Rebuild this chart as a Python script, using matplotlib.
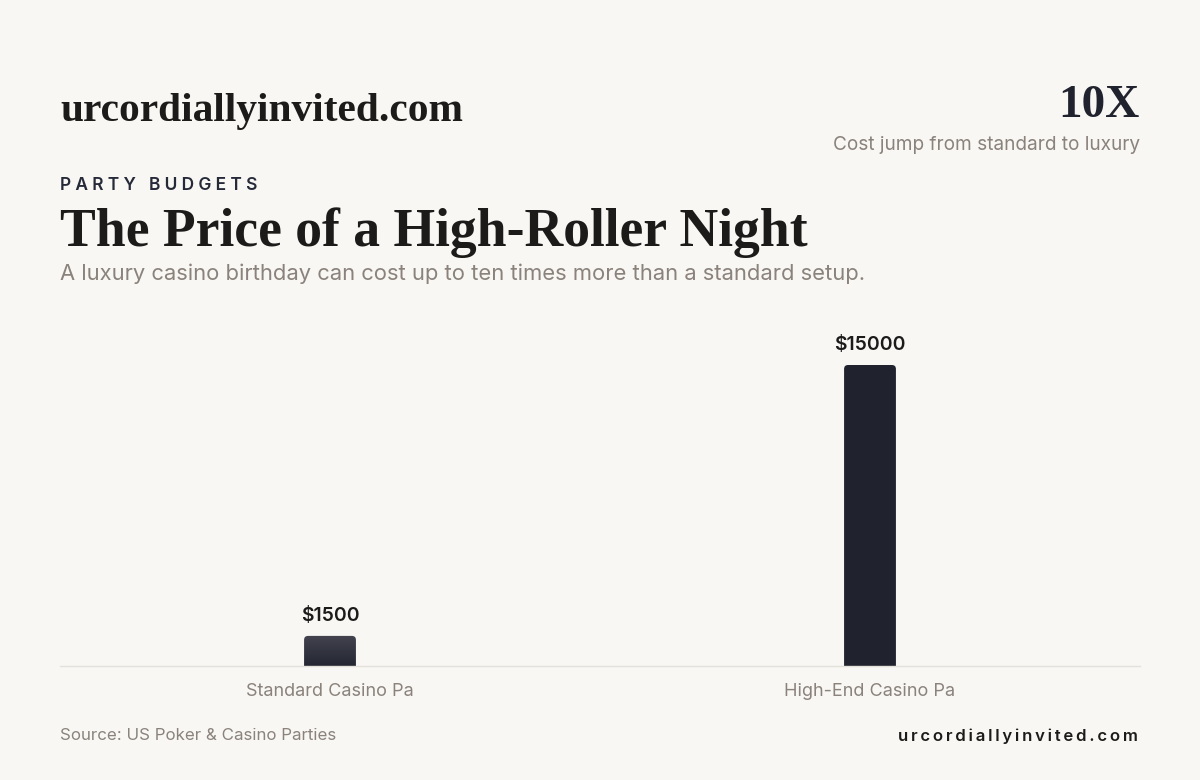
import matplotlib.pyplot as plt
import numpy as np
from matplotlib.colors import LinearSegmentedColormap
from matplotlib.patches import FancyBboxPatch

# data
categories = ["Standard Casino Pa", "High-End Casino Pa"]
costs = [1500, 15000]
value_labels = ["$1500", "$15000"]

BG = "#f8f7f4"
INK = "#1c1b1a"
NAVY = "#20232e"
GREY = "#8a827b"
SANS = ["Inter", "DejaVu Sans"]
SERIF = ["Liberation Serif", "DejaVu Serif"]


def spaced(s, sep="\u2009"):
    return sep.join(s)


fig = plt.figure(figsize=(12, 7.8), dpi=100, facecolor=BG)
W, H = 1200, 780


def px(x, y):
    return x / W, 1 - y / H


# header texts
fig.text(*px(60, 111), "urcordiallyinvited.com", family=SERIF, weight="bold",
         fontsize=29.8, color=INK, va="center", ha="left")
fig.text(*px(1140, 106), "10X", family=SERIF, weight="bold",
         fontsize=34, color=NAVY, va="center", ha="right")
fig.text(*px(1140, 145), "Cost jump from standard to luxury", family=SANS,
         fontsize=13.7, color=GREY, va="center", ha="right")
fig.text(*px(60, 186), spaced("PARTY", "\u2009\u200a") + "   " + spaced("BUDGETS", "\u2009\u200a"),
         family=SANS, weight="semibold", fontsize=12.5, color="#262a38",
         va="center", ha="left")
fig.text(*px(60, 233), "The Price of a High-Roller Night", family=SERIF,
         weight="bold", fontsize=38.6, color=INK, va="center", ha="left")
fig.text(*px(60, 274),
         "A luxury casino birthday can cost up to ten times more than a standard setup.",
         family=SANS, fontsize=15.8, color=GREY, va="center", ha="left")

# chart area
left, right, bottom, top = 60, 1140, 666, 320
ax = fig.add_axes([left / W, 1 - bottom / H, (right - left) / W, (bottom - top) / H])
ax.set_facecolor(BG)

x = np.arange(len(categories))
ymax = 15000 * 346 / 301
bar_w = 0.096
ax.set_xlim(-0.5, 1.5)
ax.set_ylim(0, ymax)

# data units per pixel, used to keep the corner rounding circular
xu = 2.0 / (right - left)
yu = ymax / (bottom - top)
radius = 4 * xu

for i, (xi, v, lab) in enumerate(zip(x, costs, value_labels)):
    # extend the box below zero so only the top corners show rounded
    patch = FancyBboxPatch((xi - bar_w / 2, -10 * yu), bar_w, v + 10 * yu,
                           boxstyle=f"round,pad=0,rounding_size={radius}",
                           mutation_aspect=yu / xu, linewidth=0,
                           facecolor=NAVY if i == 1 else "none", zorder=2)
    ax.add_patch(patch)
    if i == 0:
        grad = np.linspace(1, 0, 64).reshape(-1, 1)
        cmap = LinearSegmentedColormap.from_list("bar", ["#242631", "#43444f"])
        im = ax.imshow(grad, cmap=cmap, aspect="auto", origin="upper",
                       extent=(xi - bar_w / 2, xi + bar_w / 2, 0, v), zorder=2)
        im.set_clip_path(patch)
    ax.annotate(lab, xy=(xi, v), xytext=(0, 8), textcoords="offset points",
                ha="center", va="bottom", family=SANS, weight="semibold",
                fontsize=14, color=INK)

ax.set_xlim(-0.5, 1.5)
ax.set_ylim(0, ymax)
ax.set_yticks([])
ax.set_xticks(x)
ax.set_xticklabels(categories, family=SANS, fontsize=13, color=GREY)
ax.tick_params(axis="x", length=0, pad=12)
for s in ["top", "right", "left"]:
    ax.spines[s].set_visible(False)
ax.spines["bottom"].set_color("#e4e1db")
ax.spines["bottom"].set_linewidth(1)

# footer
fig.text(*px(60, 736), "Source: US Poker & Casino Parties", family=SANS,
         fontsize=12.2, color=GREY, va="center", ha="left")
fig.text(*px(1138, 736), spaced("urcordiallyinvited.com"), family=SANS,
         weight="semibold", fontsize=12, color=INK, va="center", ha="right")

fig.savefig("out.png", dpi=100, facecolor=BG)
